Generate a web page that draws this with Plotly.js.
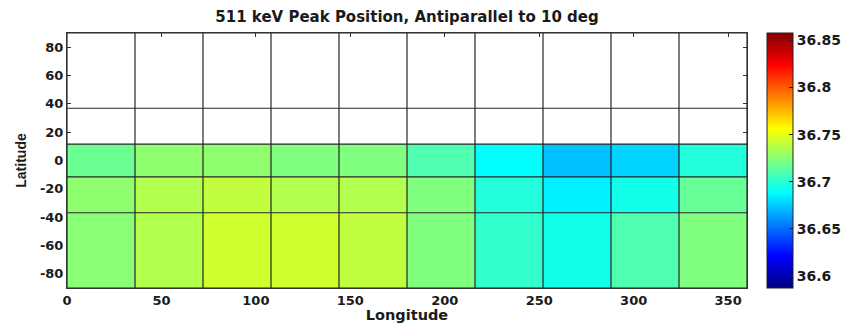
<!DOCTYPE html>
<html>
<head>
<meta charset="utf-8">
<script src="https://cdn.plot.ly/plotly-3.0.1.min.js"></script>
<style>
  html, body { margin: 0; padding: 0; background: #ffffff; }
  #chart { width: 841px; height: 323px; }
</style>
</head>
<body>
<div id="chart"></div>
<script>
// Bin edges: 36-degree longitude bins, equal-area latitude bands (sin lat steps of 0.4)
const lonEdges = [0, 36, 72, 108, 144, 180, 216, 252, 288, 324, 360];
const latEdges = [-90, -36.87, -11.54, 11.54, 36.87, 90];

// 511 keV peak position (keV) per longitude bin, one array per latitude band
const peakBand1 = [36.725, 36.736, 36.744, 36.744, 36.740, 36.723, 36.702, 36.694, 36.710, 36.723]; // -90 .. -36.87
const peakBand2 = [36.727, 36.736, 36.740, 36.736, 36.736, 36.723, 36.698, 36.685, 36.694, 36.716]; // -36.87 .. -11.54
const peakBand3 = [36.717, 36.727, 36.727, 36.723, 36.723, 36.710, 36.689, 36.672, 36.677, 36.698]; // -11.54 .. 11.54
const peakBand4 = [null, null, null, null, null, null, null, null, null, null];                      // 11.54 .. 36.87
const peakBand5 = [null, null, null, null, null, null, null, null, null, null];                      // 36.87 .. 90

const xTicks = [0, 50, 100, 150, 200, 250, 300, 350];
const yTicks = [-80, -60, -40, -20, 0, 20, 40, 60, 80];
const cbTicks = [36.6, 36.65, 36.7, 36.75, 36.8, 36.85];
const cbRange = [36.587, 36.858];

// MATLAB-style jet colour map
const jet = [
  [0.0, '#000080'], [0.125, '#0000ff'], [0.375, '#00ffff'],
  [0.625, '#ffff00'], [0.875, '#ff0000'], [1.0, '#800000']
];

const textCol = '#1a1a1a';
const tickFont = { family: 'DejaVu Sans', size: 13, color: textCol, weight: 'bold' };

const heat = {
  type: 'heatmap',
  x: lonEdges,
  y: latEdges,
  z: [peakBand1, peakBand2, peakBand3, peakBand4, peakBand5],
  colorscale: jet,
  zmin: cbRange[0],
  zmax: cbRange[1],
  hoverongaps: false,
  colorbar: {
    x: 1.029, xanchor: 'left', xpad: 0,
    y: 0.5, yanchor: 'middle', ypad: 0,
    len: 1, lenmode: 'fraction',
    thickness: 26, thicknessmode: 'pixels',
    outlinewidth: 1, outlinecolor: '#222',
    ticks: 'inside', ticklen: 4, tickcolor: '#222',
    tickvals: cbTicks,
    ticktext: cbTicks.map(String),
    tickfont: { family: 'DejaVu Sans', size: 14, color: textCol, weight: 'bold' }
  }
};

// Cell boundary lines taken from the bin edges
const shapes = [];
lonEdges.forEach(v => shapes.push({
  type: 'line', xref: 'x', yref: 'y', layer: 'above',
  x0: v, x1: v, y0: latEdges[0], y1: latEdges[latEdges.length - 1],
  line: { color: '#262626', width: 1.2 }
}));
latEdges.forEach(v => shapes.push({
  type: 'line', xref: 'x', yref: 'y', layer: 'above',
  x0: lonEdges[0], x1: lonEdges[lonEdges.length - 1], y0: v, y1: v,
  line: { color: '#262626', width: 1.2 }
}));

const layout = {
  width: 841, height: 323,
  margin: { l: 67, r: 94, t: 33, b: 35, autoexpand: false },
  paper_bgcolor: '#ffffff',
  plot_bgcolor: '#ffffff',
  title: {
    text: '511 keV Peak Position, Antiparallel to 10 deg',
    font: { family: 'DejaVu Sans', size: 15, color: textCol, weight: 'bold' },
    xref: 'paper', x: 0.5, xanchor: 'center',
    yref: 'container', y: 1 - 17 / 323, yanchor: 'middle'
  },
  xaxis: {
    range: [lonEdges[0], lonEdges[lonEdges.length - 1]],
    tickvals: xTicks, ticktext: xTicks.map(String),
    ticks: 'inside', ticklen: 4, tickcolor: '#333',
    showgrid: false, zeroline: false,
    showline: true, mirror: 'ticks', linecolor: '#333', linewidth: 1,
    layer: 'below traces',
    tickfont: tickFont,
    title: { text: 'Longitude', standoff: 2,
             font: { family: 'DejaVu Sans', size: 14.5, color: textCol, weight: 'bold' } }
  },
  yaxis: {
    range: [latEdges[0], latEdges[latEdges.length - 1]],
    tickvals: yTicks, ticktext: yTicks.map(String),
    ticks: 'inside', ticklen: 4, tickcolor: '#333',
    showgrid: false, zeroline: false,
    showline: true, mirror: 'ticks', linecolor: '#333', linewidth: 1,
    layer: 'below traces',
    tickfont: tickFont,
    title: { text: 'Latitude', standoff: 10,
             font: { family: 'Liberation Sans', size: 14, color: textCol, weight: 'bold' } }
  },
  shapes: shapes,
  showlegend: false
};

Plotly.newPlot('chart', [heat], layout, { displayModeBar: false, staticPlot: true });
</script>
</body>
</html>
